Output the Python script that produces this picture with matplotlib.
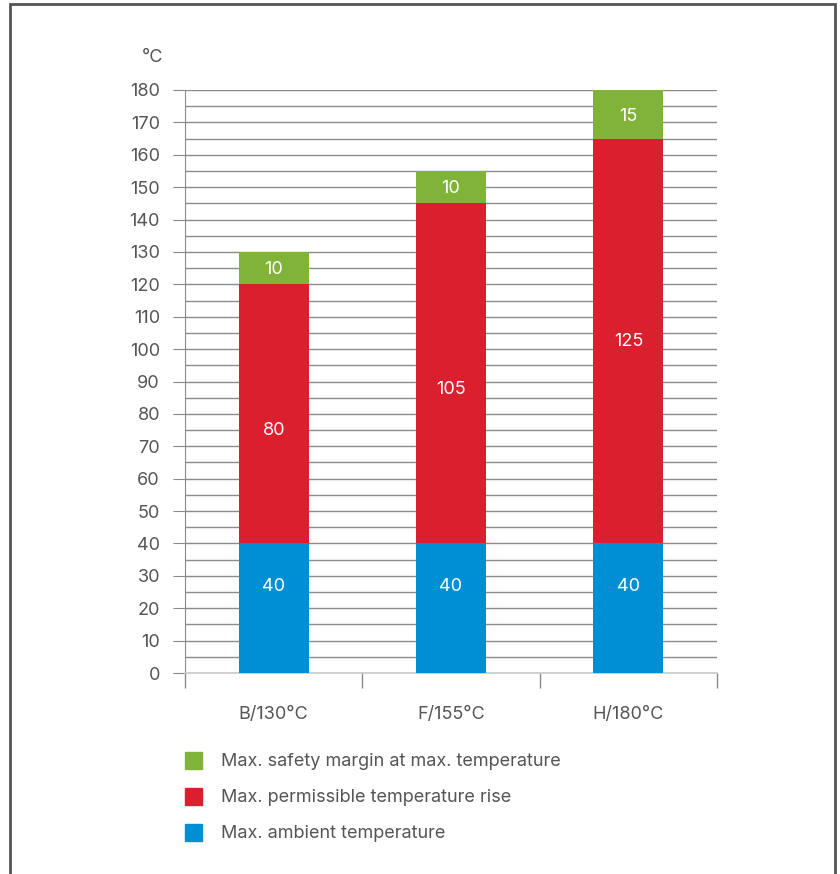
import matplotlib
matplotlib.use("Agg")
import matplotlib.pyplot as plt
from matplotlib.patches import Rectangle
import numpy as np

categories = ["B/130°C", "F/155°C", "H/180°C"]
ambient = [40, 40, 40]
rise = [80, 105, 125]
margin = [10, 10, 15]
series_labels = ["Max. safety margin at max. temperature",
                 "Max. permissible temperature rise",
                 "Max. ambient temperature"]
yticks = list(range(0, 181, 10))

# label placement within each segment (fraction of segment height)
amb_label_frac = [0.67, 0.67, 0.67]
rise_label_frac = [0.434, 0.454, 0.5]
margin_label_frac = [0.45, 0.45, 0.45]

c_green = "#80B338"
c_red = "#DA1F2E"
c_blue = "#008FD5"
txt = "#555555"
grid_c = "#8a8a8a"
FS = 13

plt.rcParams['font.family'] = ['Inter', 'DejaVu Sans']

fig = plt.figure(figsize=(8.4, 8.74), dpi=100)
W, H = 840, 874

# outer frame
fig.patches.append(Rectangle((10 / W, -0.1), 825 / W, 1.1 - 4 / H,
                             transform=fig.transFigure, fill=False,
                             edgecolor="#555555", lw=2))

ax = fig.add_axes([185 / W, 1 - 673 / H, (717 - 185) / W, (673 - 90) / H])
x = np.arange(len(categories))
bw = 0.395
ax.set_xlim(-0.5, 2.5)
ax.set_ylim(0, 180)

for v in range(5, 181, 5):
    ax.axhline(v, color=grid_c, lw=1.0, zorder=1)

ax.bar(x, ambient, bw, color=c_blue, zorder=3)
ax.bar(x, rise, bw, bottom=ambient, color=c_red, zorder=3)
bot3 = [a + r for a, r in zip(ambient, rise)]
ax.bar(x, margin, bw, bottom=bot3, color=c_green, zorder=3, clip_on=False)

for i in range(len(categories)):
    ax.text(x[i], ambient[i] * amb_label_frac[i], str(ambient[i]), color="white",
            ha="center", va="center", fontsize=FS, zorder=4)
    ax.text(x[i], ambient[i] + rise[i] * rise_label_frac[i], str(rise[i]), color="white",
            ha="center", va="center", fontsize=FS, zorder=4)
    ax.text(x[i], bot3[i] + margin[i] * margin_label_frac[i], str(margin[i]), color="white",
            ha="center", va="center", fontsize=FS, zorder=4)

for s in ["top", "right"]:
    ax.spines[s].set_visible(False)
ax.spines["left"].set_color(grid_c)
ax.spines["bottom"].set_color("#c8c8c8")
ax.spines["bottom"].set_linewidth(1.2)

ax.set_yticks(yticks)
ax.set_yticklabels([str(t) for t in yticks])
ax.tick_params(axis="y", length=9, color=grid_c, labelcolor=txt, labelsize=FS, pad=9)

ax.set_xticks([-0.5, 0.5, 1.5, 2.5])
ax.set_xticklabels([])
ax.tick_params(axis="x", length=11, color=grid_c, width=1)
for i, c in enumerate(categories):
    ax.text(x[i], -12.8, c, ha="center", va="center", color=txt, fontsize=FS)

fig.text(153 / W, 1 - 57 / H, "°C", ha="center", va="center", color=txt, fontsize=FS)

# legend
rows = [760, 796, 832]
cols = [c_green, c_red, c_blue]
for yy, col, lab in zip(rows, cols, series_labels):
    fig.patches.append(Rectangle((185 / W, 1 - (yy + 8.5) / H), 17 / W, 17 / H,
                                 transform=fig.transFigure, color=col))
    fig.text(221 / W, 1 - (yy + 1) / H, lab, ha="left", va="center", color=txt, fontsize=FS)

fig.savefig("out.png", dpi=100)
